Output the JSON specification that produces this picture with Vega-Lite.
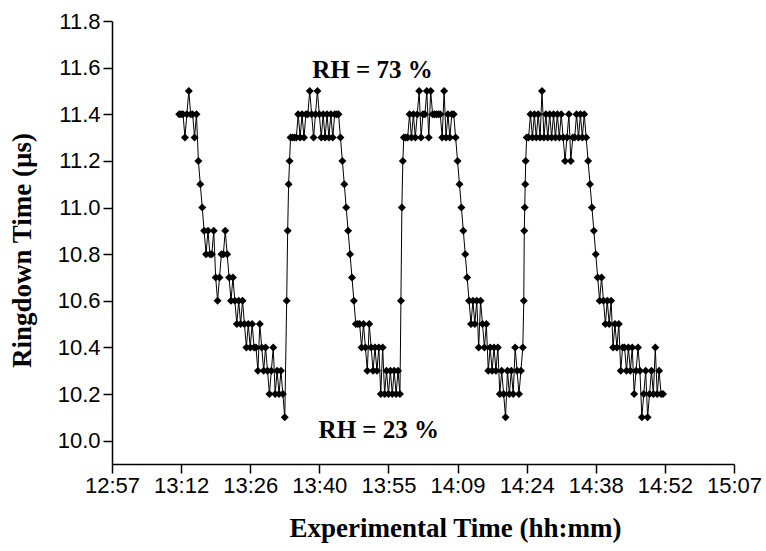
{
"$schema": "https://vega.github.io/schema/vega-lite/v6.json",
"width": 622, "height": 443,
"autosize": {"type": "none"},
"padding": {"left": 112, "top": 21, "right": 32, "bottom": 87},
"background": "white",
"config": {"view": {"stroke": null},
 "axis": {"domainColor": "black", "domainWidth": 1.5, "tickColor": "black", "tickWidth": 1.5, "grid": false,
  "labelFont": "Liberation Sans", "labelFontSize": 22, "labelColor": "black", "labelOverlap": false, "labelFlush": false,
  "titleFont": "Liberation Serif", "titleFontWeight": "bold", "titleFontSize": 27, "titleColor": "black"}},
"layer": [
{"data": {"name": "series", "values": [
{"t":791.6,"v":11.4},{"t":792.0,"v":11.4},{"t":792.4,"v":11.4},{"t":792.8,"v":11.3},{"t":793.2,"v":11.4},{"t":793.6,"v":11.5},{"t":794.0,"v":11.4},{"t":794.4,"v":11.4},{"t":794.8,"v":11.3},{"t":795.2,"v":11.4},
{"t":795.6,"v":11.2},{"t":796.0,"v":11.1},{"t":796.4,"v":11.0},{"t":796.8,"v":10.9},{"t":797.2,"v":10.8},{"t":797.6,"v":10.9},{"t":798.0,"v":10.8},{"t":798.4,"v":10.8},{"t":798.8,"v":10.9},{"t":799.2,"v":10.7},
{"t":799.6,"v":10.6},{"t":800.0,"v":10.7},{"t":800.4,"v":10.8},{"t":800.8,"v":10.8},{"t":801.2,"v":10.9},{"t":801.6,"v":10.8},{"t":802.0,"v":10.7},{"t":802.4,"v":10.6},{"t":802.8,"v":10.7},{"t":803.2,"v":10.6},
{"t":803.6,"v":10.5},{"t":804.0,"v":10.6},{"t":804.4,"v":10.5},{"t":804.8,"v":10.6},{"t":805.2,"v":10.5},{"t":805.6,"v":10.4},{"t":806.0,"v":10.5},{"t":806.4,"v":10.4},{"t":806.8,"v":10.5},{"t":807.2,"v":10.4},
{"t":807.6,"v":10.4},{"t":808.0,"v":10.3},{"t":808.4,"v":10.5},{"t":808.8,"v":10.4},{"t":809.2,"v":10.3},{"t":809.6,"v":10.4},{"t":810.0,"v":10.3},{"t":810.4,"v":10.2},{"t":810.8,"v":10.3},{"t":811.2,"v":10.4},
{"t":811.6,"v":10.2},{"t":812.0,"v":10.3},{"t":812.4,"v":10.2},{"t":812.8,"v":10.3},{"t":813.2,"v":10.2},{"t":813.6,"v":10.1},{"t":814.0,"v":10.6},{"t":814.2,"v":10.9},{"t":814.4,"v":11.1},{"t":814.6,"v":11.2},
{"t":814.8,"v":11.3},{"t":815.2,"v":11.3},{"t":815.6,"v":11.3},{"t":816.0,"v":11.3},{"t":816.4,"v":11.4},{"t":816.8,"v":11.3},{"t":817.2,"v":11.4},{"t":817.6,"v":11.3},{"t":818.0,"v":11.4},{"t":818.4,"v":11.4},
{"t":818.8,"v":11.5},{"t":819.2,"v":11.4},{"t":819.6,"v":11.3},{"t":820.0,"v":11.4},{"t":820.4,"v":11.5},{"t":820.8,"v":11.4},{"t":821.2,"v":11.3},{"t":821.6,"v":11.4},{"t":822.0,"v":11.3},{"t":822.4,"v":11.4},
{"t":822.8,"v":11.3},{"t":823.2,"v":11.4},{"t":823.6,"v":11.3},{"t":824.0,"v":11.4},{"t":824.4,"v":11.4},{"t":824.8,"v":11.4},{"t":825.2,"v":11.3},{"t":825.6,"v":11.2},{"t":826.0,"v":11.1},{"t":826.4,"v":11.0},
{"t":826.8,"v":10.9},{"t":827.2,"v":10.8},{"t":827.6,"v":10.7},{"t":828.0,"v":10.6},{"t":828.4,"v":10.5},{"t":828.8,"v":10.5},{"t":829.2,"v":10.5},{"t":829.6,"v":10.4},{"t":830.0,"v":10.5},{"t":830.4,"v":10.4},
{"t":830.8,"v":10.3},{"t":831.2,"v":10.5},{"t":831.6,"v":10.4},{"t":832.0,"v":10.3},{"t":832.4,"v":10.4},{"t":832.8,"v":10.3},{"t":833.2,"v":10.4},{"t":833.6,"v":10.2},{"t":834.0,"v":10.4},{"t":834.4,"v":10.2},
{"t":834.8,"v":10.3},{"t":835.2,"v":10.2},{"t":835.6,"v":10.3},{"t":836.0,"v":10.2},{"t":836.4,"v":10.3},{"t":836.8,"v":10.2},{"t":837.2,"v":10.3},{"t":837.6,"v":10.2},{"t":837.8,"v":10.6},{"t":838.0,"v":11.0},
{"t":838.2,"v":11.2},{"t":838.4,"v":11.3},{"t":838.8,"v":11.3},{"t":839.2,"v":11.3},{"t":839.6,"v":11.4},{"t":840.0,"v":11.3},{"t":840.4,"v":11.4},{"t":840.8,"v":11.3},{"t":841.2,"v":11.4},{"t":841.6,"v":11.5},
{"t":842.0,"v":11.3},{"t":842.4,"v":11.4},{"t":842.8,"v":11.4},{"t":843.2,"v":11.5},{"t":843.6,"v":11.3},{"t":844.0,"v":11.5},{"t":844.4,"v":11.4},{"t":844.8,"v":11.4},{"t":845.2,"v":11.4},{"t":845.6,"v":11.4},
{"t":846.0,"v":11.4},{"t":846.4,"v":11.3},{"t":846.8,"v":11.5},{"t":847.2,"v":11.3},{"t":847.6,"v":11.4},{"t":848.0,"v":11.3},{"t":848.4,"v":11.4},{"t":848.8,"v":11.4},{"t":849.2,"v":11.3},{"t":849.6,"v":11.2},
{"t":850.0,"v":11.1},{"t":850.4,"v":11.0},{"t":850.8,"v":10.9},{"t":851.2,"v":10.8},{"t":851.6,"v":10.7},{"t":852.0,"v":10.6},{"t":852.4,"v":10.5},{"t":852.8,"v":10.6},{"t":853.2,"v":10.5},{"t":853.6,"v":10.6},
{"t":854.0,"v":10.4},{"t":854.4,"v":10.6},{"t":854.8,"v":10.5},{"t":855.2,"v":10.4},{"t":855.6,"v":10.5},{"t":856.0,"v":10.3},{"t":856.4,"v":10.4},{"t":856.8,"v":10.3},{"t":857.2,"v":10.4},{"t":857.6,"v":10.3},
{"t":858.0,"v":10.4},{"t":858.4,"v":10.2},{"t":858.8,"v":10.3},{"t":859.2,"v":10.2},{"t":859.6,"v":10.1},{"t":860.0,"v":10.3},{"t":860.4,"v":10.2},{"t":860.8,"v":10.3},{"t":861.2,"v":10.2},{"t":861.6,"v":10.4},
{"t":862.0,"v":10.3},{"t":862.4,"v":10.2},{"t":862.8,"v":10.3},{"t":863.2,"v":10.4},{"t":863.4,"v":10.6},{"t":863.5,"v":10.9},{"t":863.6,"v":11.0},{"t":863.7,"v":11.1},{"t":863.8,"v":11.2},{"t":864.0,"v":11.3},
{"t":864.4,"v":11.3},{"t":864.8,"v":11.4},{"t":865.2,"v":11.3},{"t":865.6,"v":11.4},{"t":866.0,"v":11.3},{"t":866.4,"v":11.4},{"t":866.8,"v":11.3},{"t":867.2,"v":11.5},{"t":867.6,"v":11.3},{"t":868.0,"v":11.4},
{"t":868.4,"v":11.3},{"t":868.8,"v":11.4},{"t":869.2,"v":11.3},{"t":869.6,"v":11.4},{"t":870.0,"v":11.3},{"t":870.4,"v":11.4},{"t":870.8,"v":11.3},{"t":871.2,"v":11.4},{"t":871.6,"v":11.3},{"t":872.0,"v":11.2},
{"t":872.4,"v":11.3},{"t":872.8,"v":11.4},{"t":873.2,"v":11.2},{"t":873.6,"v":11.3},{"t":874.0,"v":11.3},{"t":874.4,"v":11.4},{"t":874.8,"v":11.3},{"t":875.2,"v":11.4},{"t":875.6,"v":11.3},{"t":876.0,"v":11.4},
{"t":876.4,"v":11.3},{"t":876.8,"v":11.2},{"t":877.2,"v":11.1},{"t":877.6,"v":11.0},{"t":878.0,"v":10.9},{"t":878.4,"v":10.8},{"t":878.8,"v":10.7},{"t":879.2,"v":10.6},{"t":879.6,"v":10.7},{"t":880.0,"v":10.6},
{"t":880.4,"v":10.5},{"t":880.8,"v":10.6},{"t":881.2,"v":10.5},{"t":881.6,"v":10.6},{"t":882.0,"v":10.4},{"t":882.4,"v":10.5},{"t":882.8,"v":10.4},{"t":883.2,"v":10.5},{"t":883.6,"v":10.3},{"t":884.0,"v":10.4},
{"t":884.4,"v":10.4},{"t":884.8,"v":10.3},{"t":885.2,"v":10.4},{"t":885.6,"v":10.3},{"t":886.0,"v":10.4},{"t":886.4,"v":10.2},{"t":886.8,"v":10.3},{"t":887.2,"v":10.4},{"t":887.6,"v":10.3},{"t":888.0,"v":10.1},
{"t":888.4,"v":10.2},{"t":888.8,"v":10.3},{"t":889.2,"v":10.1},{"t":889.6,"v":10.2},{"t":890.0,"v":10.3},{"t":890.4,"v":10.2},{"t":890.8,"v":10.4},{"t":891.2,"v":10.2},{"t":891.6,"v":10.3},{"t":892.0,"v":10.2},
{"t":892.4,"v":10.2}
]},
 "encoding": {
  "x": {"field": "t", "type": "quantitative", "scale": {"domain": [777.6, 907.2], "nice": false, "zero": false},
   "axis": {"values": [777.6,784.8,792,799.2,806.4,813.6,820.8,828,835.2,842.4,849.6,856.8,864,871.2,878.4,885.6,892.8,900,907.2],
    "labelExpr": "round((datum.value-777.6)/7.2)%2==0 ? floor(datum.value/60) + ':' + (floor(datum.value%60) < 10 ? '0' : '') + floor(datum.value%60) : ''",
    "tickSize": {"condition": {"test": "round((datum.value-777.6)/7.2)%2==0", "value": 9}, "value": 5},
    "labelPadding": 2,
    "title": "Experimental Time (hh:mm)", "titleX": 343, "titleY": 72, "titleBaseline": "alphabetic", "titleAlign": "center"}},
  "y": {"field": "v", "type": "quantitative", "scale": {"domain": [9.9, 11.8], "nice": false, "zero": false},
   "axis": {"values": [10,10.1,10.2,10.3,10.4,10.5,10.6,10.7,10.8,10.9,11,11.1,11.2,11.3,11.4,11.5,11.6,11.7,11.8],
    "labelExpr": "round(datum.value*10)%2==0 ? format(datum.value, '.1f') : ''",
    "tickSize": {"condition": {"test": "round(datum.value*10)%2==0", "value": 9}, "value": 5},
    "labelPadding": 3,
    "title": "Ringdown Time (µs)", "titleX": -82, "titleY": 229, "titleAngle": -90, "titleBaseline": "alphabetic", "titleAlign": "center"}}
 },
 "layer": [
  {"mark": {"type": "line", "color": "black", "strokeWidth": 1}},
  {"mark": {"type": "point", "shape": "diamond", "filled": true, "color": "black", "size": 64, "opacity": 1}}
 ]
},
{"data": {"values": [{}]}, "mark": {"type": "text", "font": "Liberation Serif", "fontWeight": "bold", "fontSize": 25, "align": "center", "baseline": "alphabetic", "color": "black"},
 "encoding": {"x": {"datum": 831.9, "type": "quantitative"}, "y": {"datum": 11.554, "type": "quantitative"}, "text": {"value": "RH = 73 %"}}},
{"data": {"values": [{}]}, "mark": {"type": "text", "font": "Liberation Serif", "fontWeight": "bold", "fontSize": 25, "align": "center", "baseline": "alphabetic", "color": "black"},
 "encoding": {"x": {"datum": 833.2, "type": "quantitative"}, "y": {"datum": 10.011, "type": "quantitative"}, "text": {"value": "RH = 23 %"}}}
]
}
